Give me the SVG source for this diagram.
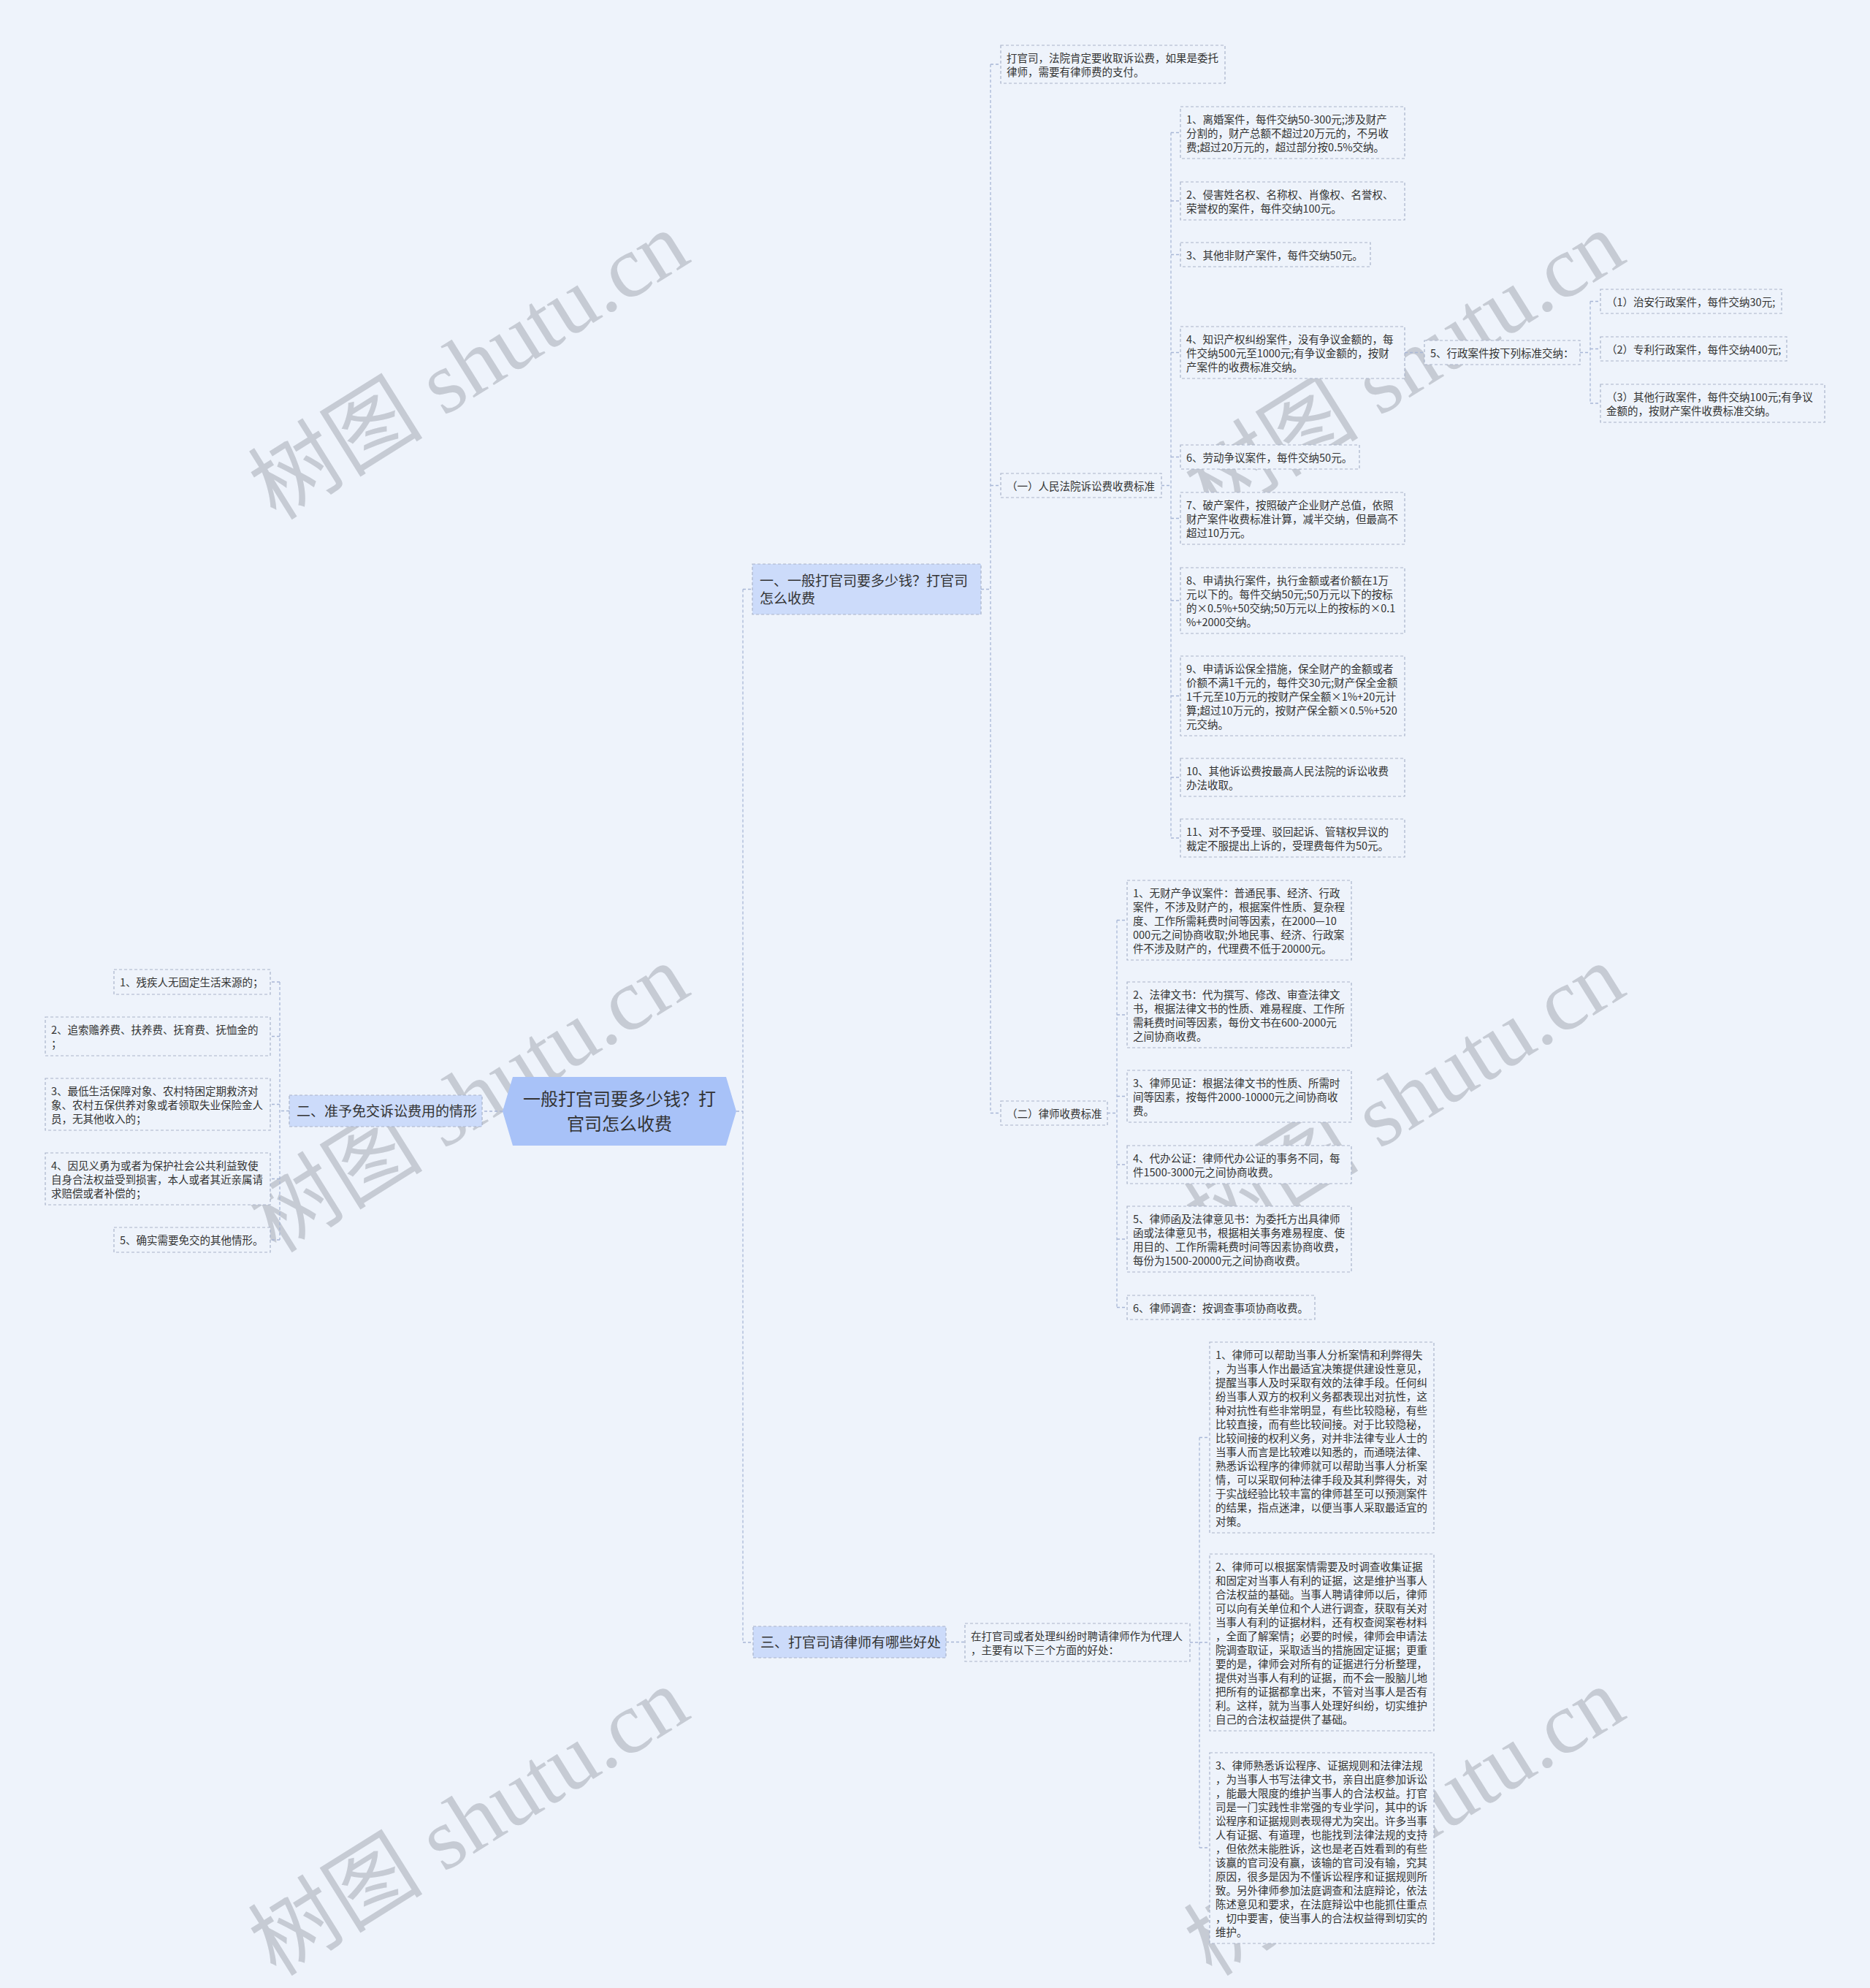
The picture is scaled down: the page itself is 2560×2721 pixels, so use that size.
<svg xmlns="http://www.w3.org/2000/svg" width="2560" height="2721" viewBox="0 0 2560 2721">
<style>
.bg{fill:#EEF3FB}
.leaf{fill:#EEF3FB;stroke:#A9B4CA;stroke-width:1.2;stroke-dasharray:4 3}
.branch{fill:#CCDBFA;stroke:#A9B4CA;stroke-width:1.2;stroke-dasharray:4 3}
.center{fill:#A8C2F8}
.conn{fill:none;stroke:#A9B7D6;stroke-width:1.3;stroke-dasharray:4 3}
.t{font-family:"Noto Sans CJK SC","Noto Sans",sans-serif;font-size:14.5px;fill:#333}
.tb{font-family:"Noto Sans CJK SC","Noto Sans",sans-serif;font-size:19px;fill:#333}
.tc{font-family:"Noto Sans CJK SC","Noto Sans",sans-serif;font-size:24px;fill:#333}
.wm{font-family:"Liberation Serif","Noto Sans CJK SC",serif;font-size:120px;fill:#C6CBD4}
</style>
<rect class="bg" x="0" y="0" width="2560" height="2721"/>

<g id="watermarks">
<text class="wm" x="646" y="540" text-anchor="middle" transform="rotate(-32 646 507)">树图 shutu.cn</text>
<text class="wm" x="1927" y="540" text-anchor="middle" transform="rotate(-32 1927 507)">树图 shutu.cn</text>
<text class="wm" x="646" y="1543" text-anchor="middle" transform="rotate(-32 646 1510)">树图 shutu.cn</text>
<text class="wm" x="1927" y="1543" text-anchor="middle" transform="rotate(-32 1927 1510)">树图 shutu.cn</text>
<text class="wm" x="646" y="2533" text-anchor="middle" transform="rotate(-32 646 2500)">树图 shutu.cn</text>
<text class="wm" x="1927" y="2533" text-anchor="middle" transform="rotate(-32 1927 2500)">树图 shutu.cn</text>
</g>

<g id="connectors">
<path class="conn" d="M688,1521 H660"/>
<path class="conn" d="M396,1520.5 H383 M383,1344 V1697 M383,1344 H370 M383,1418.5 H370 M383,1511.5 H370 M383,1613.5 H370 M383,1697 H370"/>
<path class="conn" d="M1008,1521 H1017 M1017,806.5 V2248 M1017,806.5 H1030 M1017,2248 H1031"/>
<path class="conn" d="M1343,806.5 H1356 M1356,88 V1523.5 M1356,88 H1370 M1356,664.5 H1370 M1356,1523.5 H1370"/>
<path class="conn" d="M1590,664.5 H1603 M1603,181.5 V1147 M1603,181.5 H1616 M1603,275 H1616 M1603,348.5 H1616 M1603,482.5 H1616 M1603,625.5 H1616 M1603,709.5 H1616 M1603,822 H1616 M1603,952.5 H1616 M1603,1064 H1616 M1603,1147 H1616"/>
<path class="conn" d="M1923,482.5 H1950 M2163,482.5 H2177 M2177,412.5 V552 M2177,412.5 H2191 M2177,477.5 H2191 M2177,552 H2191"/>
<path class="conn" d="M1516,1523.5 H1529 M1529,1259.5 V1789.5 M1529,1259.5 H1543 M1529,1389 H1543 M1529,1500.5 H1543 M1529,1594 H1543 M1529,1696 H1543 M1529,1789.5 H1543"/>
<path class="conn" d="M1295,2247.5 H1321 M1629,2248 H1642 M1642,1967.5 V2529 M1642,1967.5 H1656 M1642,2248 H1656 M1642,2529 H1656"/>
</g>

<g id="center">
<polygon class="center" points="702,1474 994,1474 1008,1521 994,1568 702,1568 688,1521"/>
<text class="tc" text-anchor="middle"><tspan x="848" y="1513">一般打官司要多少钱？打</tspan><tspan x="848" y="1547">官司怎么收费</tspan></text>
</g>

<g id="b1">
<rect class="branch" x="1030" y="772" width="313" height="69"/>
<text class="tb"><tspan x="1040" y="802">一、一般打官司要多少钱？打官司</tspan><tspan x="1040" y="826">怎么收费</tspan></text>
</g>
<g id="b2">
<rect class="branch" x="396" y="1499" width="264" height="43"/>
<text class="tb" x="406" y="1528">二、准予免交诉讼费用的情形</text>
</g>
<g id="b3">
<rect class="branch" x="1031" y="2226" width="264" height="43"/>
<text class="tb" x="1041" y="2255">三、打官司请律师有哪些好处</text>
</g>

<g id="n-intro1">
<rect class="leaf" x="1370" y="62" width="307" height="52"/>
<text class="t"><tspan x="1378" y="85">打官司，法院肯定要收取诉讼费，如果是委托</tspan><tspan x="1378" y="104">律师，需要有律师费的支付。</tspan></text>
</g>
<g id="n-court">
<rect class="leaf" x="1370" y="648" width="220" height="33"/>
<text class="t" x="1378" y="671">（一）人民法院诉讼费收费标准</text>
</g>
<g id="n-lawyer">
<rect class="leaf" x="1370" y="1507" width="146" height="33"/>
<text class="t" x="1378" y="1530">（二）律师收费标准</text>
</g>

<g id="c1">
<rect class="leaf" x="1616" y="146" width="307" height="71"/>
<text class="t"><tspan x="1624" y="169">1、离婚案件，每件交纳50-300元;涉及财产</tspan><tspan x="1624" y="188">分割的，财产总额不超过20万元的，不另收</tspan><tspan x="1624" y="207">费;超过20万元的，超过部分按0.5%交纳。</tspan></text>
</g>
<g id="c2">
<rect class="leaf" x="1616" y="249" width="307" height="52"/>
<text class="t"><tspan x="1624" y="272">2、侵害姓名权、名称权、肖像权、名誉权、</tspan><tspan x="1624" y="291">荣誉权的案件，每件交纳100元。</tspan></text>
</g>
<g id="c3">
<rect class="leaf" x="1616" y="332" width="260" height="33"/>
<text class="t" x="1624" y="355">3、其他非财产案件，每件交纳50元。</text>
</g>
<g id="c4">
<rect class="leaf" x="1616" y="447" width="307" height="71"/>
<text class="t"><tspan x="1624" y="470">4、知识产权纠纷案件，没有争议金额的，每</tspan><tspan x="1624" y="489">件交纳500元至1000元;有争议金额的，按财</tspan><tspan x="1624" y="508">产案件的收费标准交纳。</tspan></text>
</g>
<g id="c5">
<rect class="leaf" x="1950" y="466" width="213" height="33"/>
<text class="t" x="1958" y="489">5、行政案件按下列标准交纳：</text>
</g>
<g id="c5-1">
<rect class="leaf" x="2191" y="396" width="248" height="33"/>
<text class="t" x="2199" y="419">（1）治安行政案件，每件交纳30元;</text>
</g>
<g id="c5-2">
<rect class="leaf" x="2191" y="461" width="255" height="33"/>
<text class="t" x="2199" y="484">（2）专利行政案件，每件交纳400元;</text>
</g>
<g id="c5-3">
<rect class="leaf" x="2191" y="526" width="307" height="52"/>
<text class="t"><tspan x="2199" y="549">（3）其他行政案件，每件交纳100元;有争议</tspan><tspan x="2199" y="568">金额的，按财产案件收费标准交纳。</tspan></text>
</g>
<g id="c6">
<rect class="leaf" x="1616" y="609" width="245" height="33"/>
<text class="t" x="1624" y="632">6、劳动争议案件，每件交纳50元。</text>
</g>
<g id="c7">
<rect class="leaf" x="1616" y="674" width="307" height="71"/>
<text class="t"><tspan x="1624" y="697">7、破产案件，按照破产企业财产总值，依照</tspan><tspan x="1624" y="716">财产案件收费标准计算，减半交纳，但最高不</tspan><tspan x="1624" y="735">超过10万元。</tspan></text>
</g>
<g id="c8">
<rect class="leaf" x="1616" y="777" width="307" height="90"/>
<text class="t"><tspan x="1624" y="800">8、申请执行案件，执行金额或者价额在1万</tspan><tspan x="1624" y="819">元以下的。每件交纳50元;50万元以下的按标</tspan><tspan x="1624" y="838">的×0.5%+50交纳;50万元以上的按标的×0.1</tspan><tspan x="1624" y="857">%+2000交纳。</tspan></text>
</g>
<g id="c9">
<rect class="leaf" x="1616" y="898" width="307" height="109"/>
<text class="t"><tspan x="1624" y="921">9、申请诉讼保全措施，保全财产的金额或者</tspan><tspan x="1624" y="940">价额不满1千元的，每件交30元;财产保全金额</tspan><tspan x="1624" y="959">1千元至10万元的按财产保全额×1%+20元计</tspan><tspan x="1624" y="978">算;超过10万元的，按财产保全额×0.5%+520</tspan><tspan x="1624" y="997">元交纳。</tspan></text>
</g>
<g id="c10">
<rect class="leaf" x="1616" y="1038" width="307" height="52"/>
<text class="t"><tspan x="1624" y="1061">10、其他诉讼费按最高人民法院的诉讼收费</tspan><tspan x="1624" y="1080">办法收取。</tspan></text>
</g>
<g id="c11">
<rect class="leaf" x="1616" y="1121" width="307" height="52"/>
<text class="t"><tspan x="1624" y="1144">11、对不予受理、驳回起诉、管辖权异议的</tspan><tspan x="1624" y="1163">裁定不服提出上诉的，受理费每件为50元。</tspan></text>
</g>

<g id="l1">
<rect class="leaf" x="1543" y="1205" width="307" height="109"/>
<text class="t"><tspan x="1551" y="1228">1、无财产争议案件：普通民事、经济、行政</tspan><tspan x="1551" y="1247">案件，不涉及财产的，根据案件性质、复杂程</tspan><tspan x="1551" y="1266">度、工作所需耗费时间等因素，在2000—10</tspan><tspan x="1551" y="1285">000元之间协商收取;外地民事、经济、行政案</tspan><tspan x="1551" y="1304">件不涉及财产的，代理费不低于20000元。</tspan></text>
</g>
<g id="l2">
<rect class="leaf" x="1543" y="1344" width="307" height="90"/>
<text class="t"><tspan x="1551" y="1367">2、法律文书：代为撰写、修改、审查法律文</tspan><tspan x="1551" y="1386">书，根据法律文书的性质、难易程度、工作所</tspan><tspan x="1551" y="1405">需耗费时间等因素，每份文书在600-2000元</tspan><tspan x="1551" y="1424">之间协商收费。</tspan></text>
</g>
<g id="l3">
<rect class="leaf" x="1543" y="1465" width="307" height="71"/>
<text class="t"><tspan x="1551" y="1488">3、律师见证：根据法律文书的性质、所需时</tspan><tspan x="1551" y="1507">间等因素，按每件2000-10000元之间协商收</tspan><tspan x="1551" y="1526">费。</tspan></text>
</g>
<g id="l4">
<rect class="leaf" x="1543" y="1568" width="307" height="52"/>
<text class="t"><tspan x="1551" y="1591">4、代办公证：律师代办公证的事务不同，每</tspan><tspan x="1551" y="1610">件1500-3000元之间协商收费。</tspan></text>
</g>
<g id="l5">
<rect class="leaf" x="1543" y="1651" width="307" height="90"/>
<text class="t"><tspan x="1551" y="1674">5、律师函及法律意见书：为委托方出具律师</tspan><tspan x="1551" y="1693">函或法律意见书，根据相关事务难易程度、使</tspan><tspan x="1551" y="1712">用目的、工作所需耗费时间等因素协商收费，</tspan><tspan x="1551" y="1731">每份为1500-20000元之间协商收费。</tspan></text>
</g>
<g id="l6">
<rect class="leaf" x="1543" y="1773" width="257" height="33"/>
<text class="t" x="1551" y="1796">6、律师调查：按调查事项协商收费。</text>
</g>

<g id="e1">
<rect class="leaf" x="156" y="1327" width="214" height="34"/>
<text class="t" x="164" y="1350">1、残疾人无固定生活来源的；</text>
</g>
<g id="e2">
<rect class="leaf" x="62" y="1392" width="308" height="53"/>
<text class="t"><tspan x="70" y="1415">2、追索赡养费、扶养费、抚育费、抚恤金的</tspan><tspan x="70" y="1434">；</tspan></text>
</g>
<g id="e3">
<rect class="leaf" x="62" y="1476" width="308" height="71"/>
<text class="t"><tspan x="70" y="1499">3、最低生活保障对象、农村特困定期救济对</tspan><tspan x="70" y="1518">象、农村五保供养对象或者领取失业保险金人</tspan><tspan x="70" y="1537">员，无其他收入的；</tspan></text>
</g>
<g id="e4">
<rect class="leaf" x="62" y="1578" width="308" height="71"/>
<text class="t"><tspan x="70" y="1601">4、因见义勇为或者为保护社会公共利益致使</tspan><tspan x="70" y="1620">自身合法权益受到损害，本人或者其近亲属请</tspan><tspan x="70" y="1639">求赔偿或者补偿的；</tspan></text>
</g>
<g id="e5">
<rect class="leaf" x="156" y="1680" width="214" height="34"/>
<text class="t" x="164" y="1703">5、确实需要免交的其他情形。</text>
</g>

<g id="h0">
<rect class="leaf" x="1321" y="2222" width="308" height="52"/>
<text class="t"><tspan x="1329" y="2245">在打官司或者处理纠纷时聘请律师作为代理人</tspan><tspan x="1329" y="2264">，主要有以下三个方面的好处：</tspan></text>
</g>
<g id="h1">
<rect class="leaf" x="1656" y="1837" width="307" height="261"/>
<text class="t"><tspan x="1664" y="1860">1、律师可以帮助当事人分析案情和利弊得失</tspan><tspan x="1664" y="1879">，为当事人作出最适宜决策提供建设性意见，</tspan><tspan x="1664" y="1898">提醒当事人及时采取有效的法律手段。任何纠</tspan><tspan x="1664" y="1917">纷当事人双方的权利义务都表现出对抗性，这</tspan><tspan x="1664" y="1936">种对抗性有些非常明显，有些比较隐秘，有些</tspan><tspan x="1664" y="1955">比较直接，而有些比较间接。对于比较隐秘，</tspan><tspan x="1664" y="1974">比较间接的权利义务，对并非法律专业人士的</tspan><tspan x="1664" y="1993">当事人而言是比较难以知悉的，而通晓法律、</tspan><tspan x="1664" y="2012">熟悉诉讼程序的律师就可以帮助当事人分析案</tspan><tspan x="1664" y="2031">情，可以采取何种法律手段及其利弊得失，对</tspan><tspan x="1664" y="2050">于实战经验比较丰富的律师甚至可以预测案件</tspan><tspan x="1664" y="2069">的结果，指点迷津，以便当事人采取最适宜的</tspan><tspan x="1664" y="2088">对策。</tspan></text>
</g>
<g id="h2">
<rect class="leaf" x="1656" y="2127" width="307" height="242"/>
<text class="t"><tspan x="1664" y="2150">2、律师可以根据案情需要及时调查收集证据</tspan><tspan x="1664" y="2169">和固定对当事人有利的证据，这是维护当事人</tspan><tspan x="1664" y="2188">合法权益的基础。当事人聘请律师以后，律师</tspan><tspan x="1664" y="2207">可以向有关单位和个人进行调查，获取有关对</tspan><tspan x="1664" y="2226">当事人有利的证据材料，还有权查阅案卷材料</tspan><tspan x="1664" y="2245">，全面了解案情；必要的时候，律师会申请法</tspan><tspan x="1664" y="2264">院调查取证，采取适当的措施固定证据；更重</tspan><tspan x="1664" y="2283">要的是，律师会对所有的证据进行分析整理，</tspan><tspan x="1664" y="2302">提供对当事人有利的证据，而不会一股脑儿地</tspan><tspan x="1664" y="2321">把所有的证据都拿出来，不管对当事人是否有</tspan><tspan x="1664" y="2340">利。这样，就为当事人处理好纠纷，切实维护</tspan><tspan x="1664" y="2359">自己的合法权益提供了基础。</tspan></text>
</g>
<g id="h3">
<rect class="leaf" x="1656" y="2399" width="307" height="261"/>
<text class="t"><tspan x="1664" y="2422">3、律师熟悉诉讼程序、证据规则和法律法规</tspan><tspan x="1664" y="2441">，为当事人书写法律文书，亲自出庭参加诉讼</tspan><tspan x="1664" y="2460">，能最大限度的维护当事人的合法权益。打官</tspan><tspan x="1664" y="2479">司是一门实践性非常强的专业学问，其中的诉</tspan><tspan x="1664" y="2498">讼程序和证据规则表现得尤为突出。许多当事</tspan><tspan x="1664" y="2517">人有证据、有道理，也能找到法律法规的支持</tspan><tspan x="1664" y="2536">，但依然未能胜诉，这也是老百姓看到的有些</tspan><tspan x="1664" y="2555">该赢的官司没有赢，该输的官司没有输，究其</tspan><tspan x="1664" y="2574">原因，很多是因为不懂诉讼程序和证据规则所</tspan><tspan x="1664" y="2593">致。另外律师参加法庭调查和法庭辩论，依法</tspan><tspan x="1664" y="2612">陈述意见和要求，在法庭辩讼中也能抓住重点</tspan><tspan x="1664" y="2631">，切中要害，使当事人的合法权益得到切实的</tspan><tspan x="1664" y="2650">维护。</tspan></text>
</g>
</svg>
